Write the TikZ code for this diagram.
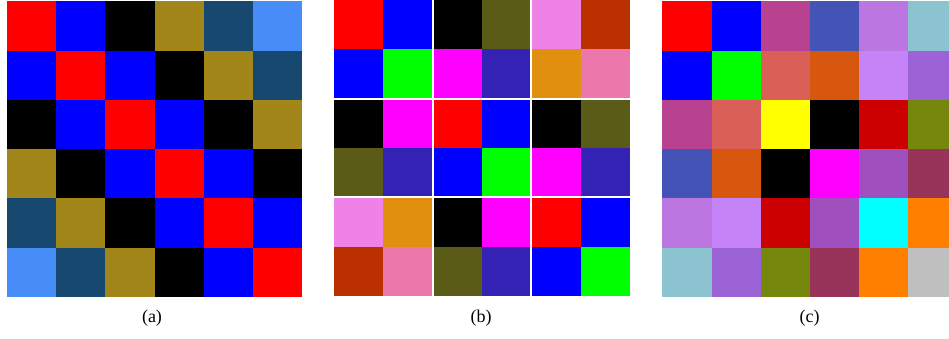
\documentclass[tikz,border=0pt]{standalone}
\usepackage{fontspec}
\setmainfont{Liberation Serif}
% grid (a)
\definecolor{aR}{HTML}{FF0000}
\definecolor{aB}{HTML}{0000FF}
\definecolor{aK}{HTML}{000000}
\definecolor{aG}{HTML}{A3861A}
\definecolor{aN}{HTML}{174870}
\definecolor{aL}{HTML}{478CF7}
% grid (b)
\definecolor{bGr}{HTML}{00FF00}
\definecolor{bMa}{HTML}{FF00FF}
\definecolor{bOl}{HTML}{5B5B18}
\definecolor{bIn}{HTML}{3322B3}
\definecolor{bVi}{HTML}{EE82E6}
\definecolor{bBr}{HTML}{BB3000}
\definecolor{bOr}{HTML}{E0900E}
\definecolor{bPk}{HTML}{EC78AB}
% grid (c)
\definecolor{cA}{HTML}{B84190}
\definecolor{cBb}{HTML}{4454B6}
\definecolor{cC}{HTML}{BC76E2}
\definecolor{cD}{HTML}{8CC3D1}
\definecolor{cE}{HTML}{D95F57}
\definecolor{cF}{HTML}{D8570E}
\definecolor{cGg}{HTML}{C583F7}
\definecolor{cH}{HTML}{9C63D6}
\definecolor{cI}{HTML}{CC0000}
\definecolor{cJ}{HTML}{76870D}
\definecolor{cK}{HTML}{A050BE}
\definecolor{cL}{HTML}{983459}
\definecolor{cM}{HTML}{00FFFF}
\definecolor{cN}{HTML}{FF8000}
\definecolor{cO}{HTML}{BFBFBF}
\definecolor{cY}{HTML}{FFFF00}
\begin{document}
\begin{tikzpicture}[x=1pt,y=-1pt,
  caption/.style={font=\fontsize{18}{20}\selectfont, inner sep=0pt, anchor=center},
  gapline/.style={white, line width=2pt}]
\useasboundingbox (0,0) rectangle (949,339);
\fill[white] (0,0) rectangle (949,339);
% ---------- grid (a)
\foreach \row [count=\r from 0] in {
  {aR,aB,aK,aG,aN,aL},
  {aB,aR,aB,aK,aG,aN},
  {aK,aB,aR,aB,aK,aG},
  {aG,aK,aB,aR,aB,aK},
  {aN,aG,aK,aB,aR,aB},
  {aL,aN,aG,aK,aB,aR}} {
  \foreach \c [count=\k from 0] in \row {
    \fill[\c] ({7+\k*49.2}, {1.5+\r*49.2}) rectangle ++({49.2+0.3*(\k<5)}, {49.2+0.3*(\r<5)});
  }
}
% ---------- grid (b)
\foreach \row [count=\r from 0] in {
  {aR,aB,aK,bOl,bVi,bBr},
  {aB,bGr,bMa,bIn,bOr,bPk},
  {aK,bMa,aR,aB,aK,bOl},
  {bOl,bIn,aB,bGr,bMa,bIn},
  {bVi,bOr,aK,bMa,aR,aB},
  {bBr,bPk,bOl,bIn,aB,bGr}} {
  \foreach \c [count=\k from 0] in \row {
    \fill[\c] ({334+\k*49.33}, {\r*49.33}) rectangle ++({49.33+0.3*(\k<5)}, {49.33+0.3*(\r<5)});
  }
}
\draw[gapline] (432.7,0) -- (432.7,296);
\draw[gapline] (531.3,0) -- (531.3,296);
\draw[gapline] (334,98.7) -- (630,98.7);
\draw[gapline] (334,197.3) -- (630,197.3);
% ---------- grid (c)
\begin{scope}
\clip (0,0) rectangle (949,339);
\foreach \row [count=\r from 0] in {
  {aR,aB,cA,cBb,cC,cD},
  {aB,bGr,cE,cF,cGg,cH},
  {cA,cE,cY,aK,cI,cJ},
  {cBb,cF,aK,bMa,cK,cL},
  {cC,cGg,cI,cK,cM,cN},
  {cD,cH,cJ,cL,cN,cO}} {
  \foreach \c [count=\k from 0] in \row {
    \fill[\c] ({662.3+\k*49.2}, {1.5+\r*49.2}) rectangle ++({49.2+0.3*(\k<5)}, {49.2+0.3*(\r<5)});
  }
}
\end{scope}
% ---------- captions
\node[caption] (capa) at (152,318.5) {(a)};
\node[caption] (capb) at (481,318.5) {(b)};
\node[caption] (capc) at (809.5,318.5) {(c)};
\end{tikzpicture}
\end{document}
